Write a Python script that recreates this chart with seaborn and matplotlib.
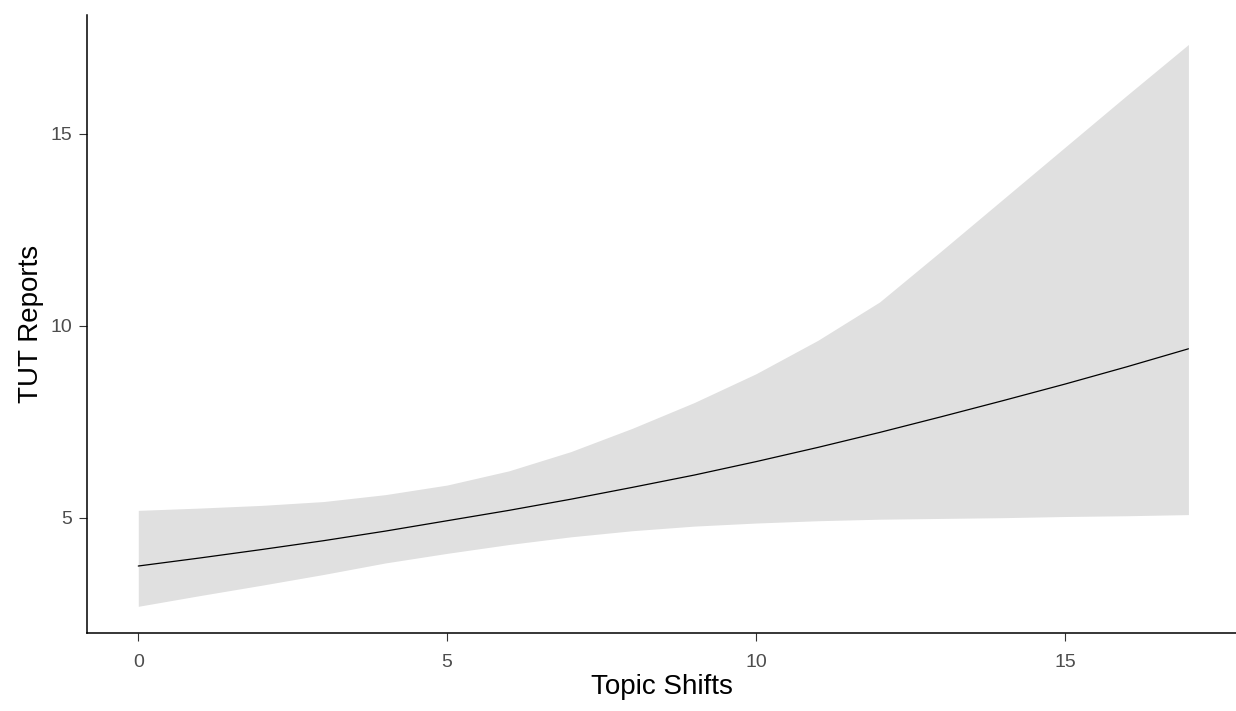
import matplotlib
matplotlib.use('Agg')
import matplotlib.pyplot as plt
import seaborn as sns
import pandas as pd

# values
topic_shifts = list(range(0, 18))
tut_fit = [3.74, 3.95, 4.17, 4.40, 4.65, 4.92, 5.19, 5.48, 5.79,
           6.11, 6.46, 6.83, 7.22, 7.63, 8.05, 8.48, 8.93, 9.40]
tut_upper = [5.19, 5.25, 5.32, 5.42, 5.60, 5.85, 6.22, 6.72, 7.33,
             8.00, 8.75, 9.62, 10.62, 11.95, 13.30, 14.65, 16.00, 17.33]
tut_lower = [2.69, 2.97, 3.24, 3.52, 3.82, 4.07, 4.30, 4.50, 4.66,
             4.78, 4.86, 4.92, 4.96, 4.98, 5.00, 5.03, 5.05, 5.08]
y_ticks = [5, 10, 15]
x_ticks = [0, 5, 10, 15]

df = pd.DataFrame({'shifts': topic_shifts, 'fit': tut_fit,
                   'upper': tut_upper, 'lower': tut_lower})

sns.set_theme(style='ticks')
plt.rcParams['font.family'] = ['Liberation Sans', 'DejaVu Sans']

fig = plt.figure(figsize=(12.36, 7.11), dpi=100)
ax = fig.add_axes([0.0704, 0.110, 0.9296, 0.869])

ax.fill_between(df['shifts'], df['lower'], df['upper'], color='#e0e0e0', linewidth=0)
sns.lineplot(x='shifts', y='fit', data=df, color='black', linewidth=0.9, ax=ax)

ax.set_xlim(-0.83, 17.77)
ax.set_ylim(2.0, 18.1)
ax.set_xticks(x_ticks)
ax.set_yticks(y_ticks)
ax.set_xlabel('Topic Shifts', fontsize=20, color='black', labelpad=2)
ax.set_ylabel('TUT Reports', fontsize=20, color='black', labelpad=5)
ax.tick_params(axis='both', labelsize=14, labelcolor='#4d4d4d', color='#333333',
               length=5.5, width=0.8)
ax.tick_params(axis='x', pad=10)
ax.tick_params(axis='y', pad=5)
for side in ['top', 'right']:
    ax.spines[side].set_visible(False)
for side in ['left', 'bottom']:
    ax.spines[side].set_color('black')
    ax.spines[side].set_linewidth(1.1)

fig.savefig('out.png', dpi=100)
